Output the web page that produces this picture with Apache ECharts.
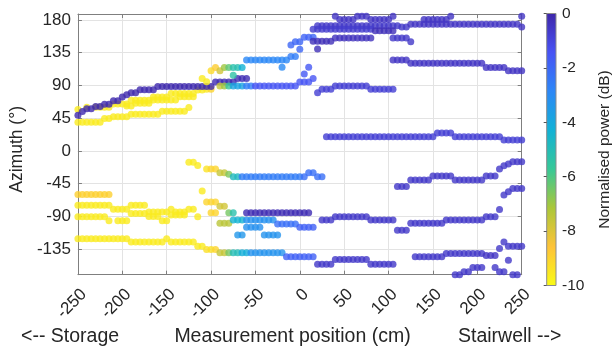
<!DOCTYPE html>
<html><head><meta charset="utf-8">
<script src="https://cdn.jsdelivr.net/npm/echarts@6/dist/echarts.min.js"></script>
<style>html,body{margin:0;padding:0;background:#fff}#c{width:614px;height:347px}</style>
</head><body><div id="c"></div>
<script>
// ---- axis / tick definitions ----
const xTicks = [-250, -200, -150, -100, -50, 0, 50, 100, 150, 200, 250];
const yTicks = [-135, -90, -45, 0, 45, 90, 135, 180];
const cbTicks = [-10, -8, -6, -4, -2, 0];
const xRange = [-250, 250];
const yRange = [-170, 188];
const cbRange = [-10, 0];
const X_STEP = 5; // measurement spacing (cm)

// ---- tracks: runs of [xStart, xEnd, azimuth (deg), normalised power (dB)] ----
const trackDarkRising = [[-250,-250,49,-0.1],[-245,-245,54,-0.1],[-240,-235,58,-0.1],[-230,-225,61,-0.1],[-220,-215,64,-0.1],[-210,-205,69,-0.1],[-200,-200,74,-0.1],[-195,-195,77,-0.1],[-190,-185,80,-0.1],[-180,-165,84,-0.1],[-160,-100,88.5,-0.1],[-95,-75,94.5,-0.2],[-70,-60,99.5,-0.2]];
const trackYellowUpper = [[-250,-250,57,-9.6],[-240,-240,60,-9.6],[-230,-215,60,-9.6],[-210,-195,64.5,-9.6],[-190,-170,69.5,-9.6],[-165,-150,74,-9.6],[-145,-120,79,-9.6],[-115,-110,83.5,-9.6],[-105,-105,84.5,-9.5],[-100,-100,84.5,-9]];
const trackYellowMiddle = [[-195,-190,61.5,-9.6],[-185,-170,65.5,-9.6],[-165,-140,70,-9.6],[-135,-120,74.5,-9.6]];
const trackYellowLower = [[-250,-225,39.5,-9.6],[-220,-215,44.5,-9.6],[-210,-195,47,-9.6],[-190,-160,50.5,-9.6],[-155,-130,54.5,-9.6],[-125,-125,59.5,-9.6]];
const trackBlue89 = [[-90,-90,89,-7.6],[-85,-85,89,-7],[-80,-80,89,-5.6],[-75,-65,89,-3.8],[-60,-55,89,-2.6],[-50,-5,89,-1.5],[0,10,94.5,-1.5],[5,5,105.5,-1.6],[10,10,115,-1.6],[15,15,99.5,-1.5]];
const trackTeal115 = [[-110,-110,99.5,-9.6],[-105,-105,95,-9.6],[-100,-100,110,-9.2],[-95,-95,114.5,-8.8],[-90,-90,110,-7.8],[-85,-85,114.5,-7],[-80,-80,114.5,-6.2],[-75,-75,104,-5.4],[-75,-70,114.5,-5.2],[-65,-65,114.5,-4.3],[-60,-15,125,-2.9],[-20,-20,115,-3],[-10,-5,129.5,-2.6]];
const trackNearZero = [[-10,-10,145.5,-2],[-5,0,150,-2],[0,0,139.5,-2],[5,15,156,-1.9]];
const trackTop = [[40,40,185,-0.5],[45,60,180.5,-0.5],[65,75,185,-0.5],[80,100,180.5,-0.5],[105,105,185,-0.5],[140,165,180.5,-0.5],[170,170,185,-0.5],[250,250,185,-0.5]];
const trackU1 = [[20,110,172,-0.6],[115,120,170,-0.6],[125,245,174,-0.5],[250,250,170,-0.5]];
const trackU2 = [[15,80,167,-0.7],[85,105,165,-0.3]];
const trackU3 = [[15,35,150.5,-0.3],[20,20,140,-0.3],[40,80,155,-0.4],[105,120,155,-0.6],[125,125,150,-0.6]];
const trackM1 = [[105,120,125,-0.5],[125,205,120.5,-0.5],[210,230,114.5,-0.5],[235,250,110,-0.5]];
const trackM2 = [[20,20,80,-0.8],[25,35,84.5,-0.8],[40,75,89,-0.8],[80,105,84.5,-0.8]];
const trackR1 = [[30,150,19.5,-0.8],[155,170,24.5,-0.8],[175,225,19.5,-0.8],[230,250,15,-0.8]];
const trackL1 = [[-125,-120,-15.5,-9.6],[-115,-115,-20,-9.6],[-105,-105,-25,-9.4],[-100,-95,-25,-9],[-90,-85,-30,-7.6],[-80,-80,-32,-6.6],[-75,-70,-35.5,-4.8],[-65,0,-35.5,-2.6],[5,5,-35.5,-2.2],[10,15,-30,-2.2],[20,25,-35.5,-2.2]];
const trackOrange60 = [[-250,-215,-60,-8.9],[-110,-110,-55,-9.6]];
const trackY74 = [[-250,-215,-74.5,-9.6],[-210,-195,-80,-9.6],[-190,-175,-74.5,-9.6],[-170,-150,-84,-9.6],[-145,-145,-80,-9.6],[-140,-130,-84,-9.6],[-125,-120,-80,-9.6]];
const trackY90 = [[-250,-220,-90.5,-9.6],[-215,-215,-96,-9.6],[-205,-195,-96,-9.6],[-190,-175,-86,-9.6],[-170,-160,-90,-9.6],[-155,-150,-96,-9.6],[-145,-130,-88,-9.6],[-115,-115,-90.5,-9.6]];
const trackTransitionA = [[-105,-95,-70,-9],[-90,-85,-76,-7.8],[-80,-80,-85,-6.5],[-75,-75,-85,-5.2]];
const trackTransitionB = [[-100,-95,-85,-9],[-90,-80,-99.5,-7.4],[-75,-65,-95,-4.4],[-60,-30,-95,-3.2],[-25,-5,-100.5,-2.2],[0,15,-105,-1.8]];
const trackLightBlueBits = [[-70,-65,-115.5,-3.4],[-60,-45,-105,-3.2],[-40,-25,-115.5,-3.3]];
const trackDark85 = [[-60,10,-85,-0.2]];
const trackY120 = [[-250,-195,-120.5,-9.6],[-190,-155,-125,-9.6],[-150,-150,-120.5,-9.6],[-145,-120,-125,-9.6],[-115,-110,-131,-9.6],[-105,-100,-135.5,-9.3],[-95,-95,-135.5,-9],[-90,-85,-140,-7.6],[-80,-80,-140,-6.5],[-75,-70,-140,-5],[-65,-60,-140,-4.2],[-55,-20,-140,-3.3],[-15,15,-145.5,-1.8]];
const trackDarkLow = [[20,35,-155.5,-0.6],[40,75,-149,-0.6],[80,105,-155.5,-0.6]];
const trackM3 = [[25,35,-95,-0.6],[40,75,-90.5,-0.6],[80,105,-95,-0.6],[110,120,-109,-0.6],[125,160,-99.5,-0.6],[165,205,-95,-0.6],[210,220,-90.5,-0.6],[225,225,-80.5,-0.6],[230,230,-60.5,-0.6],[235,235,-56,-0.6],[240,250,-51.5,-0.6]];
const trackR2 = [[110,120,-49,-0.6],[125,145,-40,-0.6],[150,170,-34.5,-0.6],[175,205,-40,-0.6],[210,220,-34.5,-0.6],[225,225,-25,-0.6],[230,230,-20.5,-0.6],[235,235,-18,-0.6],[240,250,-15,-0.6]];
const trackR3 = [[130,160,-145.5,-0.6],[165,205,-141,-0.6],[210,220,-143.5,-0.5],[225,225,-134,-0.6],[230,230,-125,-0.6],[235,250,-131,-0.6]];
const trackR4 = [[175,180,-170,-0.6],[185,190,-166,-0.6],[195,205,-160,-0.6],[220,220,-160,-0.6],[225,230,-166,-0.6],[235,235,-150,-0.6],[240,245,-170,-0.6]];

const tracks = [trackYellowLower, trackYellowMiddle, trackYellowUpper, trackDarkRising, trackTeal115, trackBlue89, trackNearZero,
  trackTop, trackU1, trackU2, trackU3, trackM1, trackM2, trackR1,
  trackL1, trackOrange60, trackY74, trackY90, trackTransitionA, trackTransitionB, trackLightBlueBits, trackDark85, trackY120,
  trackDarkLow, trackM3, trackR2, trackR3, trackR4];

// parula colormap (0 dB = dark blue ... -10 dB = yellow)
const parula = ['#3e26a8', '#4852f4', '#2d87f7', '#12b1d6', '#37c897', '#abc739', '#fec338', '#f9fb15'];

function expandRuns(runs) {
  const pts = [];
  runs.forEach(([x0, x1, az, p]) => {
    for (let x = x0; x <= x1; x += X_STEP) pts.push([x, az, p]);
  });
  return pts;
}

const FONT = '"Liberation Sans", Arial, Helvetica, sans-serif';
const TXT = '#262626';
const AX = '#7f7f7f';

const scatterSeries = tracks.map(t => ({
  type: 'scatter', xAxisIndex: 0, yAxisIndex: 0,
  symbol: 'circle', symbolSize: 7, clip: false,
  data: expandRuns(t), silent: true, z: 3
}));

const chart = echarts.init(document.getElementById('c'), null, {renderer: 'canvas'});
const grid0 = {left: 76.7, top: 14, width: 445, height: 260.7};
chart.setOption({
  animation: false,
  backgroundColor: '#ffffff',
  textStyle: {fontFamily: FONT},
  grid: [grid0, {left: 546.7, top: 13.5, width: 17.6, height: 272}],
  xAxis: [
    {gridIndex: 0, type: 'value', min: xRange[0], max: xRange[1], interval: 50, position: 'bottom',
     axisLine: {show: true, onZero: false, lineStyle: {color: AX, width: 1}},
     axisTick: {show: true, inside: true, length: 4, lineStyle: {color: AX}, customValues: xTicks},
     axisLabel: {show: true, rotate: 45, fontSize: 17, color: TXT, fontFamily: FONT, margin: 11, verticalAlign: 'top', customValues: xTicks},
     splitLine: {show: true, lineStyle: {color: '#e3e3e3', width: 1}}},
    {gridIndex: 0, type: 'value', min: xRange[0], max: xRange[1], interval: 50, position: 'top',
     axisLine: {show: true, onZero: false, lineStyle: {color: AX, width: 1}},
     axisTick: {show: true, inside: true, length: 4, lineStyle: {color: AX}},
     axisLabel: {show: false}, splitLine: {show: false}},
    {gridIndex: 1, type: 'value', min: 0, max: 1, show: false}
  ],
  yAxis: [
    {gridIndex: 0, type: 'value', min: yRange[0], max: yRange[1], position: 'left',
     name: 'Azimuth (°)', nameLocation: 'middle', nameGap: 43, nameRotate: 90,
     nameTextStyle: {fontSize: 17.5, color: TXT, fontFamily: FONT, padding: [0, 10, 0, 0]},
     axisLine: {show: true, onZero: false, lineStyle: {color: AX, width: 1}},
     axisTick: {show: true, inside: true, length: 4, lineStyle: {color: AX}, customValues: yTicks},
     axisLabel: {show: true, fontSize: 17, color: TXT, fontFamily: FONT, margin: 7, customValues: yTicks},
     splitLine: {show: true, lineStyle: {color: '#e3e3e3', width: 1}}},
    {gridIndex: 0, type: 'value', min: yRange[0], max: yRange[1], position: 'right',
     axisLine: {show: true, onZero: false, lineStyle: {color: AX, width: 1}},
     axisTick: {show: true, inside: true, length: 4, lineStyle: {color: AX}, customValues: yTicks},
     axisLabel: {show: false}, splitLine: {show: false}},
    {gridIndex: 1, type: 'value', min: cbRange[0], max: cbRange[1], interval: 2, position: 'right', z: 10,
     name: 'Normalised power (dB)', nameLocation: 'middle', nameGap: 41, nameRotate: 90,
     nameTextStyle: {fontSize: 15.5, color: TXT, fontFamily: FONT},
     axisLine: {show: false},
     axisTick: {show: true, inside: true, length: 3, lineStyle: {color: '#555'}, customValues: cbTicks},
     axisLabel: {show: true, fontSize: 15.5, color: TXT, fontFamily: FONT, margin: 6, customValues: cbTicks},
     splitLine: {show: false}}
  ],
  visualMap: {
    type: 'continuous', show: false, min: cbRange[0], max: cbRange[1], dimension: 2,
    seriesIndex: scatterSeries.map((s, i) => i),
    inRange: {color: parula.slice().reverse()}
  },
  graphic: [
    {type: 'text', x: 21, y: 337, style: {text: '<-- Storage', font: '19.5px ' + FONT, fill: TXT, align: 'left', verticalAlign: 'middle'}},
    {type: 'text', x: 292.5, y: 337, style: {text: 'Measurement position (cm)', font: '19.5px ' + FONT, fill: TXT, align: 'center', verticalAlign: 'middle'}},
    {type: 'text', x: 458, y: 337, style: {text: 'Stairwell -->', font: '19.5px ' + FONT, fill: TXT, align: 'left', verticalAlign: 'middle'}}
  ],
  series: scatterSeries.concat([{
    type: 'custom', xAxisIndex: 2, yAxisIndex: 2, silent: true, z: 1, clip: false,
    data: [[0, cbRange[1], 1, cbRange[0]]],
    renderItem: function (params, api) {
      const a = api.coord([api.value(0), api.value(1)]);
      const b = api.coord([api.value(2), api.value(3)]);
      const stops = parula.map((c, i) => ({offset: i / (parula.length - 1), color: c}));
      return {type: 'rect', shape: {x: a[0], y: a[1], width: b[0] - a[0], height: b[1] - a[1]},
        style: {fill: new echarts.graphic.LinearGradient(0, 0, 0, 1, stops), stroke: '#8c8c8c', lineWidth: 1}};
    }
  }])
});
</script></body></html>
